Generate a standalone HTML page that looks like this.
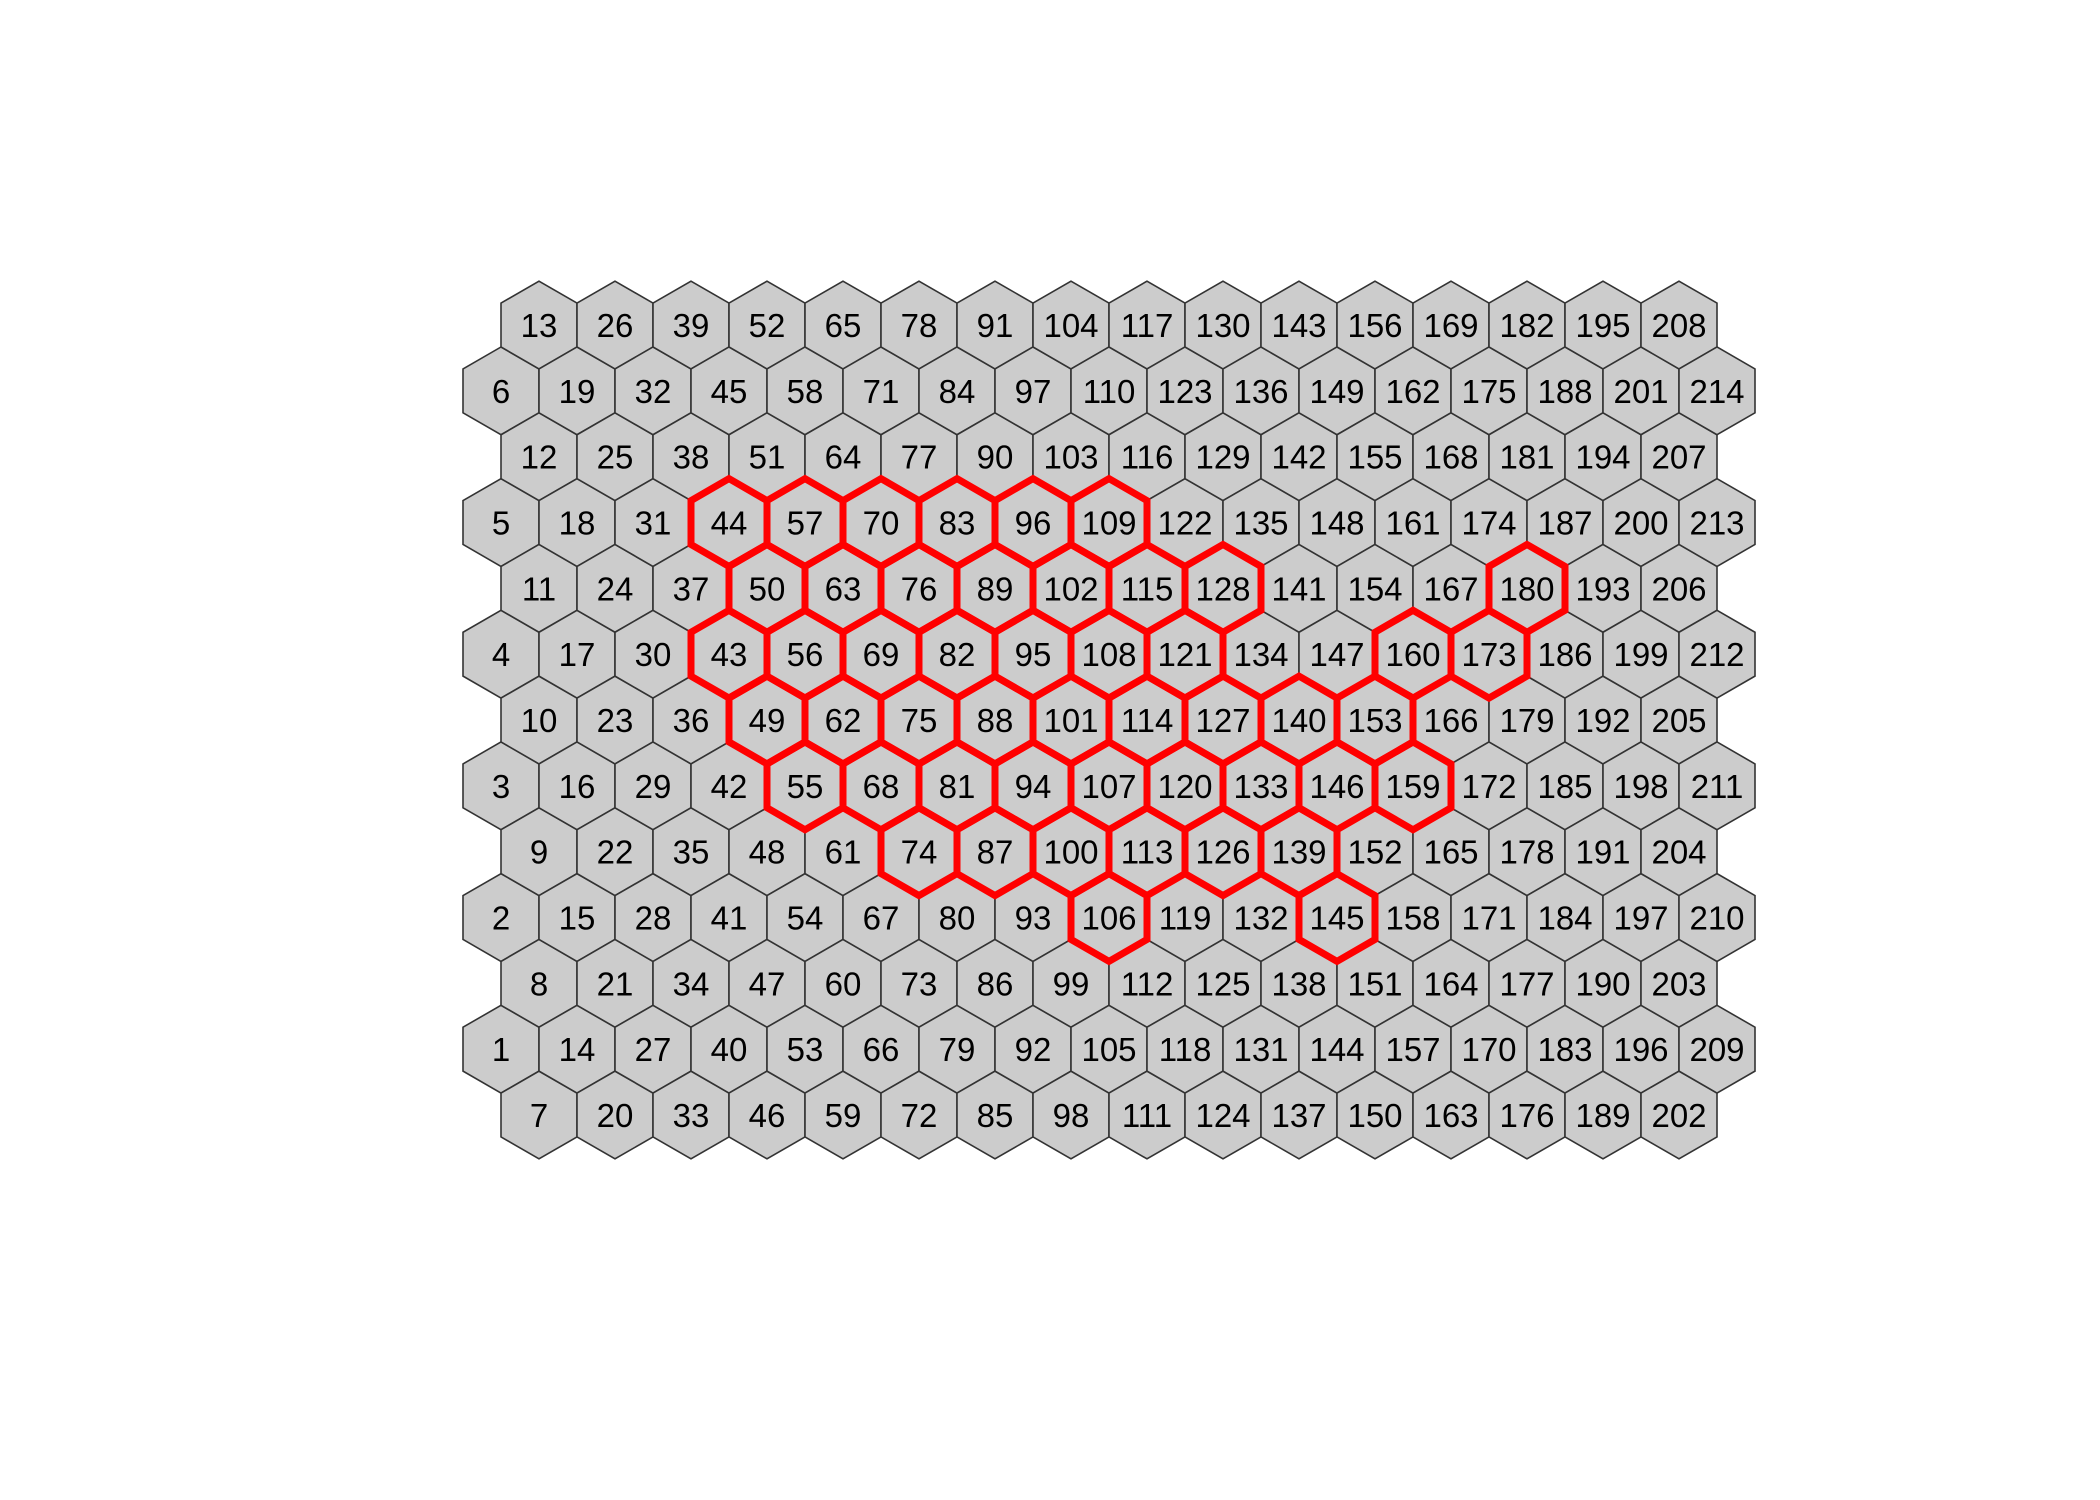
<!DOCTYPE html>
<html><head><meta charset="utf-8"><style>
html,body{margin:0;padding:0;background:#fff}
svg{display:block}
text{font-family:"Liberation Sans",Arial,sans-serif}
</style></head><body>
<svg id="chart" width="2100" height="1500" viewBox="0 0 2100 1500" xmlns="http://www.w3.org/2000/svg">
<rect width="2100" height="1500" fill="#fff"/>
<g id="cells"></g>
<g id="highlights"></g>
<g id="labels"></g>
</svg>
<script>
const cellCount = [214];
const highlighted = [44,57,70,83,96,109,50,63,76,89,102,115,128,180,43,56,69,82,95,108,121,160,173,49,62,75,88,101,114,127,140,153,55,68,81,94,107,120,133,146,159,74,87,100,113,126,139,106,145];

const NS = "http://www.w3.org/2000/svg";
const dx = 76, R = dx / Math.sqrt(3), x0 = 501, yBottom = 1115, dy = 65.83;
function pos(id) {
  const k = Math.floor((id - 1) / 13), j = (id - 1) % 13 + 1;
  let row, x;
  if (j <= 6) { row = 2 * j - 1; x = x0 + k * dx; }
  else { row = 2 * (j - 7); x = x0 + dx / 2 + k * dx; }
  return [x, yBottom - row * dy];
}
function hexPts(cx, cy) {
  const p = [];
  for (let i = 0; i < 6; i++) {
    const a = Math.PI / 180 * (60 * i - 90);
    p.push((cx + R * Math.cos(a)).toFixed(2) + "," + (cy + R * Math.sin(a)).toFixed(2));
  }
  return p.join(" ");
}
const cells = document.getElementById("cells"), hl = document.getElementById("highlights"), lab = document.getElementById("labels");
for (let id = 1; id <= cellCount[0]; id++) {
  const [x, y] = pos(id);
  const poly = document.createElementNS(NS, "polygon");
  poly.setAttribute("points", hexPts(x, y));
  poly.setAttribute("fill", "#cccccc");
  poly.setAttribute("stroke", "#333333");
  poly.setAttribute("stroke-width", "1.6");
  
  
  cells.appendChild(poly);
  const t = document.createElementNS(NS, "text");
  t.setAttribute("x", x);
  t.setAttribute("y", y + 12);
  t.setAttribute("text-anchor", "middle");
  t.setAttribute("font-size", "33");
  t.setAttribute("fill", "#000");
  t.textContent = id;
  
  
  lab.appendChild(t);
}
highlighted.forEach(id => {
  const [x, y] = pos(id);
  const poly = document.createElementNS(NS, "polygon");
  poly.setAttribute("points", hexPts(x, y));
  poly.setAttribute("fill", "none");
  poly.setAttribute("stroke", "#ff0000");
  poly.setAttribute("stroke-width", "7");
  poly.setAttribute("stroke-linejoin", "miter");
  
  
  hl.appendChild(poly);
});
</script>
</body></html>
